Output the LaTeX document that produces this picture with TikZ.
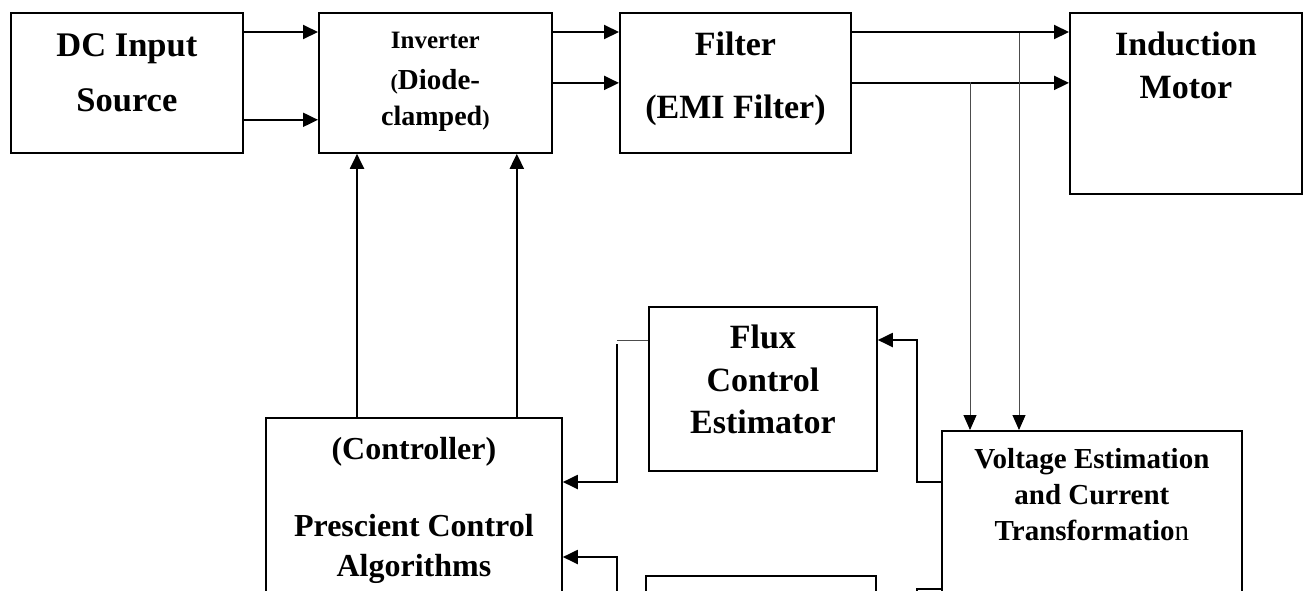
\documentclass[tikz,border=0pt]{standalone}
\usepackage{fontspec}
\setmainfont{Liberation Serif}
\usetikzlibrary{arrows.meta,positioning}

\tikzset{
  blk/.style={draw, line width=1.8pt, inner sep=0pt, anchor=north west},
  lbl/.style 2 args={align=center, inner sep=0pt, font=\bfseries\fontsize{#1}{#2}\selectfont},
  arr/.style={line width=2pt, -{Triangle[length=15pt,width=14pt]}},
  tap/.style={line width=1pt, draw=black!70, -{Triangle[length=15pt,width=13pt,color=black]}},
  wire/.style={line width=2pt},
  thinwire/.style={line width=1pt, draw=black!70},
}

\begin{document}
\begin{tikzpicture}[x=1pt,y=1pt]
\useasboundingbox (0,0) rectangle (1303,-590);
\clip (0,0) rectangle (1303,-590);

% Draw the blocks
\node[blk, minimum width=232pt, minimum height=140pt] (dc) at (10,-12) {};
\node[blk, minimum width=233pt, minimum height=140pt] (inv) at (318,-12) {};
\node[blk, minimum width=231pt, minimum height=140pt] (flt) at (619,-12) {};
\node[blk, minimum width=232pt, minimum height=181pt] (motor) at (1069,-12) {};
\node[blk, minimum width=228pt, minimum height=164pt] (flux) at (648,-306) {};
\node[blk, minimum width=300pt, minimum height=300pt] (volt) at (941,-430) {};
\node[blk, minimum width=296pt, minimum height=300pt] (ctrl) at (265,-417) {};
\node[blk, minimum width=230pt, minimum height=200pt] (spd) at (645,-575) {};

% Draw the block labels
\node[lbl={34.5}{55}, below=21pt of dc.north] (dctxt) {DC Input\\Source};
\node[lbl={29}{41}, below=20pt of inv.north] (invtxt)
  {{\fontsize{25}{41}\selectfont Inverter}\\{\fontsize{22}{41}\selectfont(}Diode-\\[-5pt]{\fontsize{28}{41}\selectfont clamped}{\fontsize{22}{41}\selectfont)}};
\node[lbl={34}{63}, below=20pt of flt.north] (flttxt) {Filter\\(EMI Filter)};
\node[lbl={34}{43}, below=20pt of motor.north] (motortxt) {Induction\\Motor};
\node[lbl={34}{42.5}, below=19pt of flux.north] (fluxtxt) {Flux\\Control\\Estimator};
\node[lbl={29}{36}, below=18.5pt of volt.north] (volttxt) {Voltage Estimation\\and Current\\Transformatio{\mdseries n}};
\node[lbl={32}{40}, below=20pt of ctrl.north] (ctrltxt) {(Controller)\\[37pt]Prescient Control\\Algorithms};

% Power path
\draw[arr] ([yshift=-20pt]dc.north east) -- ([yshift=-20pt]inv.north west);
\draw[arr] ([yshift=34pt]dc.south east) -- ([yshift=34pt]inv.south west);
\draw[arr] ([yshift=-20pt]inv.north east) -- ([yshift=-20pt]flt.north west);
\draw[arr] (inv.east) -- (flt.west);
\draw[arr] ([yshift=-20pt]flt.north east) -- ([yshift=-20pt]motor.north west);
\draw[arr] (flt.east) -- (flt.east -| motor.west);

% Gate signals
\coordinate (g1) at ([xshift=39pt]inv.south west);
\coordinate (g2) at ([xshift=-36pt]inv.south east);
\draw[arr] (g1 |- ctrl.north) -- (g1);
\draw[arr] (g2 |- ctrl.north) -- (g2);

% Measurement taps
\coordinate (t1) at (970,-82);
\coordinate (t2) at (1019,-33);
\draw[tap] (t1) -- (t1 |- volt.north);
\draw[tap] (t2) -- (t2 |- volt.north);

% Feedback loops
\coordinate (fe) at ([yshift=-34pt]flux.north east);
\coordinate (fw) at ([yshift=-34pt]flux.north west);
\coordinate (v1) at (917,-482);
\coordinate (v2) at (917,-589);
\coordinate (c1) at (617,-340);
\coordinate (c2) at (617,-482);
\coordinate (c3) at (617,-557);
\coordinate (c4) at (617,-620);
\draw[arr] (volt.west |- v1) -- (v1) |- (fe);
\draw[thinwire] (fw) -- (c1);
\draw[arr] ([yshift=-4pt]c1) -- (c2) -- (ctrl.east |- c2);
\draw[arr] (c4) -- (c3) -- (ctrl.east |- c3);
\draw[wire] (volt.west |- v2) -- (v2) -- ++(0,-30);
\end{tikzpicture}
\end{document}
